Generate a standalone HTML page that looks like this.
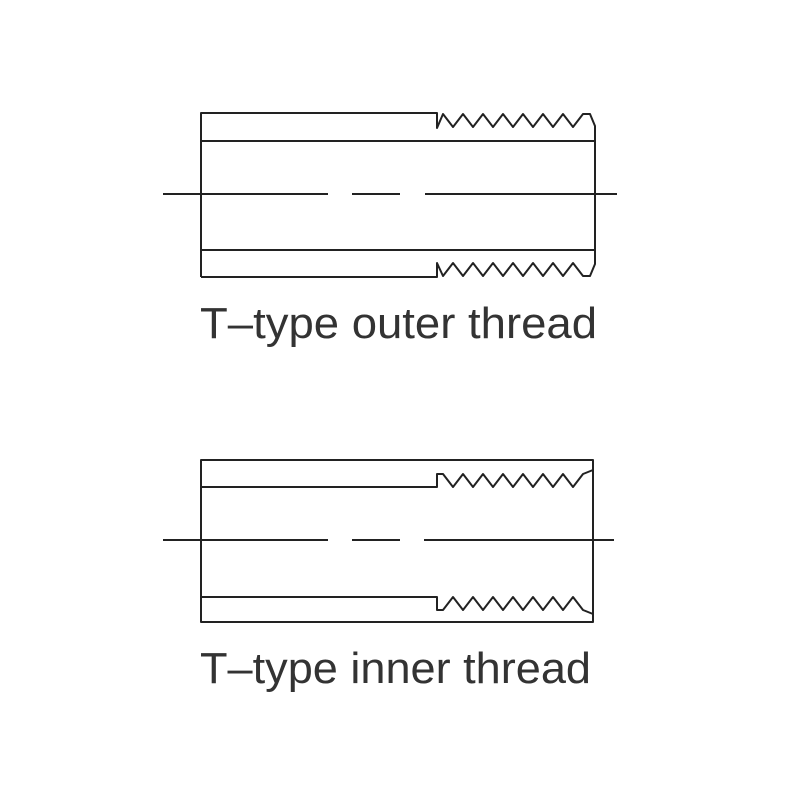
<!DOCTYPE html>
<html><head><style>body{margin:0;background:#fff}svg{display:block}</style></head><body>
<svg width="800" height="800" viewBox="0 0 800 800" xmlns="http://www.w3.org/2000/svg">
<g fill="none" stroke="#222" stroke-width="2" stroke-linejoin="round">
<polyline points="201,277 201,113 437,113 437,128 443,114 453,127 463,114 473,127 483,114 493,127 503,114 513,127 523,114 533,127 543,114 553,127 563,114 573,127 583,114 590,114 595,126 595,264 590,276 583,276 573,263 563,276 553,263 543,276 533,263 523,276 513,263 503,276 493,263 483,276 473,263 463,276 453,263 443,276 437,263 437,277 201,277"/>
<line x1="201" y1="141" x2="595" y2="141"/>
<line x1="201" y1="250" x2="595" y2="250"/>
<line x1="163" y1="194" x2="328" y2="194"/>
<line x1="352" y1="194" x2="400" y2="194"/>
<line x1="425" y1="194" x2="617" y2="194"/>
<rect x="201" y="460" width="392" height="162"/>
<polyline points="201,487 437,487 437,474 443,474 453,487 463,474 473,487 483,474 493,487 503,474 513,487 523,474 533,487 543,474 553,487 563,474 573,487 583,474 593,470"/>
<polyline points="201,597 437,597 437,610 443,610 453,597 463,610 473,597 483,610 493,597 503,610 513,597 523,610 533,597 543,610 553,597 563,610 573,597 583,610 593,614"/>
<line x1="163" y1="540" x2="328" y2="540"/>
<line x1="352" y1="540" x2="400" y2="540"/>
<line x1="424" y1="540" x2="614" y2="540"/>
</g>
<text x="200" y="338" textLength="397" lengthAdjust="spacingAndGlyphs" font-family="Liberation Sans, sans-serif" font-size="44" fill="#333">T–type outer thread</text>
<text x="200" y="683" textLength="391" lengthAdjust="spacingAndGlyphs" font-family="Liberation Sans, sans-serif" font-size="44" fill="#333">T–type inner thread</text>
</svg>
</body></html>
